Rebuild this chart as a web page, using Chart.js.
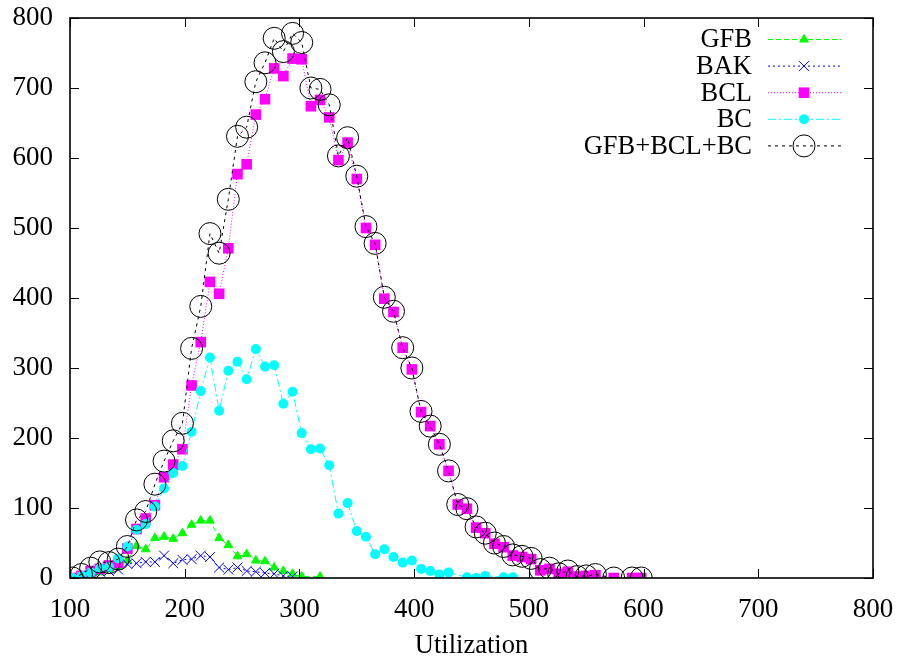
<!DOCTYPE html>
<html>
<head>
    <title>Utilization</title>
    <script src="https://cdn.jsdelivr.net/npm/chart.js"></script>
    <style>
        html, body { margin: 0; padding: 0; background: #fff; }
        #wrap { width: 901px; height: 663px; }
    </style>
</head>
<body>
    <div id="wrap"><canvas id="utilChart" width="901" height="663"></canvas></div>

    <script>
    // utilization bins (x) and counts per method, null = no point in that bin
    const util = [102,110,118,126,134,142,150,158,166,174,182,190,198,206,214,222,230,238,246,254,
                  262,270,278,286,294,302,310,318,326,334,342,350,358,366,374,382,390,398,406,414,
                  422,430,438,446,454,462,470,478,486,494,502,510,518,526,534,542,550,558,566,574,
                  582,590,598];

    const gfb = [0,2,5,8,12,16,25,46,41,57,59,56,64,76,82,82,57,47,31,34,
                 25,24,15,10,6,2,null,2];

    const bak = [0,3,6,9,10,12,20,21,23,23,32,21,26,27,32,30,15,12,15,10,
                 9,7,6,3,2];

    const bcl = [0,3,10,13,18,22,42,70,85,104,144,162,184,275,337,423,406,471,577,591,
                 662,684,728,717,742,741,674,683,658,597,622,570,500,476,399,380,329,298,237,217,
                 191,153,105,99,72,64,49,44,32,30,27,11,13,6,9,2,3,4,null,0,
                 null,0,0];

    const bc = [0,3,8,14,16,28,45,69,77,102,128,150,160,209,267,315,239,296,309,284,
                327,302,304,249,266,207,184,185,161,92,107,67,59,34,41,30,22,25,13,10,
                5,8,null,1,0,3,null,1,1];

    const combined = [0,5,14,23,22,27,45,83,95,134,167,196,221,328,388,492,464,541,631,644,
                      709,736,771,752,778,765,700,698,676,603,629,574,502,478,401,381,329,300,238,217,
                      191,153,105,99,73,64,50,45,33,31,28,12,14,6,10,2,3,5,null,0,
                      null,0,0];

    const xTicks = [100,200,300,400,500,600,700,800];
    const yTicks = [0,100,200,300,400,500,600,700,800];

    const FONT = "'Liberation Serif', 'Times New Roman', serif";

    function toPoints(arr) {
        const pts = [];
        arr.forEach((v, i) => {
            if (v !== null && v !== undefined) pts.push({x: util[i], y: v});
        });
        return pts;
    }

    const datasets = [
        {label: 'GFB', data: toPoints(gfb), borderColor: '#00ff00', backgroundColor: '#00ff00',
         borderDash: [5, 3], pointStyle: 'triangle', pointRadius: 5, pointBorderWidth: 1, order: 5},
        {label: 'BAK', data: toPoints(bak), borderColor: '#0000ff', backgroundColor: '#0000ff',
         borderDash: [2, 3], pointStyle: 'crossRot', pointRadius: 7, pointBorderWidth: 1, order: 4},
        {label: 'BCL', data: toPoints(bcl), borderColor: '#ff00ff', backgroundColor: '#ff00ff',
         borderDash: [1, 2], pointStyle: 'rect', pointRadius: 7.5, pointBorderWidth: 0, order: 3},
        {label: 'BC', data: toPoints(bc), borderColor: '#00ffff', backgroundColor: '#00ffff',
         borderDash: [8, 3, 2, 3], pointStyle: 'circle', pointRadius: 5, pointBorderWidth: 0, order: 2},
        {label: 'GFB+BCL+BC', data: toPoints(combined), borderColor: '#000000', backgroundColor: 'rgba(0,0,0,0)',
         borderDash: [3, 4], pointStyle: 'circle', pointRadius: 11, pointBorderWidth: 1, order: 1}
    ];
    datasets.forEach(d => {
        d.borderWidth = 1;
        d.pointBackgroundColor = d.backgroundColor;
        d.pointBorderColor = d.borderColor;
        d.fill = false;
        d.tension = 0;
        d.spanGaps = true;
    });

    // gnuplot style frame: border plus inward ticks on all four sides
    const frame = {
        id: 'frame',
        afterDatasetsDraw(chart) {
            const ctx = chart.ctx, a = chart.chartArea;
            const xs = chart.scales.x, ys = chart.scales.y;
            ctx.save();
            ctx.strokeStyle = '#000';
            ctx.lineWidth = 1;
            ctx.beginPath();
            xTicks.forEach(v => {
                const p = Math.round(xs.getPixelForValue(v)) + 0.5;
                ctx.moveTo(p, a.bottom); ctx.lineTo(p, a.bottom - 9);
                ctx.moveTo(p, a.top); ctx.lineTo(p, a.top + 9);
            });
            yTicks.forEach(v => {
                const p = Math.round(ys.getPixelForValue(v)) + 0.5;
                ctx.moveTo(a.left, p); ctx.lineTo(a.left + 9, p);
                ctx.moveTo(a.right, p); ctx.lineTo(a.right - 9, p);
            });
            ctx.stroke();
            ctx.lineWidth = 1.6;
            ctx.strokeRect(a.left, a.top, a.right - a.left, a.bottom - a.top);
            ctx.restore();
        }
    };

    // key in the top right: text right aligned, then sample line with marker
    const key = {
        id: 'key',
        afterDraw(chart) {
            const ctx = chart.ctx;
            ctx.save();
            ctx.font = '26.5px ' + FONT;
            ctx.textAlign = 'right';
            ctx.textBaseline = 'middle';
            chart.data.datasets.forEach((d, i) => {
                const y = 39.5 + i * 26.6;
                ctx.fillStyle = '#000';
                ctx.fillText(d.label, 752, y + 1);
                ctx.strokeStyle = d.borderColor;
                ctx.lineWidth = 1;
                ctx.setLineDash(d.borderDash);
                ctx.beginPath();
                ctx.moveTo(768, y); ctx.lineTo(841, y);
                ctx.stroke();
                ctx.setLineDash([]);
                ctx.fillStyle = d.pointBackgroundColor;
                Chart.helpers.drawPoint(ctx, {
                    pointStyle: d.pointStyle, radius: d.pointRadius,
                    rotation: 0, borderWidth: d.pointBorderWidth
                }, 804, y);
            });
            ctx.restore();
        }
    };

    new Chart(document.getElementById('utilChart').getContext('2d'), {
        type: 'line',
        data: {datasets: datasets},
        options: {
            responsive: false,
            animation: false,
            layout: {padding: {left: 0, right: 28, top: 18, bottom: 0}},
            plugins: {legend: {display: false}, tooltip: {enabled: false}},
            scales: {
                x: {
                    type: 'linear', min: 100, max: 800,
                    afterFit: s => { s.height = 85; s.paddingLeft = 0; s.paddingRight = 0; },
                    afterBuildTicks: s => { s.ticks = xTicks.map(v => ({value: v})); },
                    grid: {display: false, drawTicks: false},
                    border: {display: false},
                    ticks: {color: '#000', padding: 16, font: {family: FONT, size: 27}},
                    title: {display: true, text: 'Utilization', color: '#000',
                            font: {family: FONT, size: 26.5}, padding: {top: 0, bottom: 1}}
                },
                y: {
                    type: 'linear', min: 0, max: 800,
                    afterFit: s => { s.width = 70; s.paddingTop = 0; s.paddingBottom = 0; },
                    afterBuildTicks: s => { s.ticks = yTicks.map(v => ({value: v})); },
                    grid: {display: false, drawTicks: false},
                    border: {display: false},
                    ticks: {color: '#000', padding: 17, font: {family: FONT, size: 27}}
                }
            }
        },
        plugins: [frame, key]
    });
    </script>
</body>
</html>
